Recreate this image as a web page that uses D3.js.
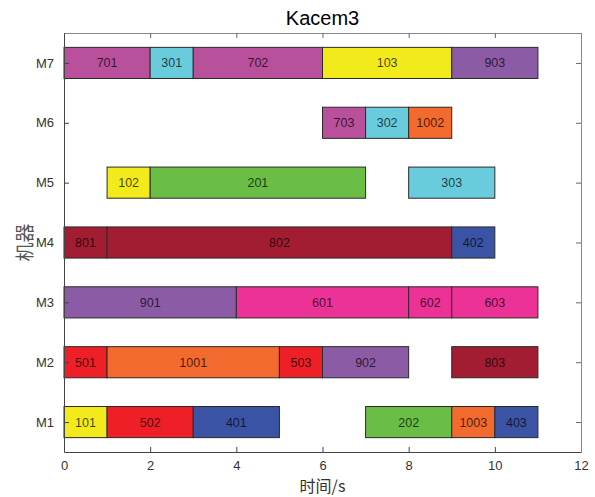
<!DOCTYPE html>
<html><head><meta charset="utf-8">
<script src="https://cdn.jsdelivr.net/npm/d3@7"></script>
<style>body{margin:0;background:#fff}svg{display:block}</style>
</head><body><svg id="c" width="595" height="497"></svg>
<script>
const machines = ["M1","M2","M3","M4","M5","M6","M7"];
const opLabels  = ["701","301","702","103","903", "703","302","1002", "102","201","303", "801","802","402", "901","601","602","603", "501","1001","503","902","803", "101","502","401","202","1003","403"];
const opMachine = ["M7","M7","M7","M7","M7", "M6","M6","M6", "M5","M5","M5", "M4","M4","M4", "M3","M3","M3","M3", "M2","M2","M2","M2","M2", "M1","M1","M1","M1","M1","M1"];
const opStart   = [0,2,3,6,9, 6,7,8, 1,2,8, 0,1,9, 0,4,8,9, 0,1,5,6,9, 0,1,3,7,9,10];
const opEnd     = [2,3,6,9,11, 7,8,9, 2,7,10, 1,9,10, 4,8,9,11, 1,5,6,8,11, 1,3,5,9,10,11];
const jobIds    = [1,2,3,4,5,6,7,8,9,10];
const jobColors = ["#F2EA1B","#6ABD45","#69CCDC","#3A53A4","#EE1F26","#EC3296","#B9509B","#A21D31","#8C5BA6","#F26A2E"];
const xTicks = [0,2,4,6,8,10,12];
const title = "Kacem3", xLabel = "时间/s", yLabel = "机器";

(function(){
const svg = d3.select("#c");
const L=64, R=581, T=33, B=452;
const x = d3.scaleLinear().domain([0,12]).range([L,R]);
const yi = d3.scaleLinear().domain([0.5,7.5]).range([B,T]);
const y = m => yi(machines.indexOf(m)+1);
const color = d3.scaleOrdinal().domain(jobIds).range(jobColors);
const jobOf = s => +s.slice(0, s.length-2);
const barH = (yi(0)-yi(1))*0.52;

const ops = opLabels.map((l,i)=>({label:l, m:opMachine[i], s:opStart[i], e:opEnd[i]}));

const g = svg.append("g");
g.selectAll("rect.bar").data(ops).enter().append("rect")
 .attr("x",d=>x(d.s)).attr("width",d=>x(d.e)-x(d.s))
 .attr("y",d=>y(d.m)-barH/2).attr("height",barH)
 .attr("fill",d=>color(jobOf(d.label)))
 .attr("stroke","#2a2a2a").attr("stroke-width",1);
g.selectAll("text.lab").data(ops).enter().append("text")
 .attr("x",d=>(x(d.s)+x(d.e))/2).attr("y",d=>y(d.m)+4.5)
 .attr("text-anchor","middle").attr("font-family","Liberation Sans, Arial, sans-serif")
 .attr("font-size",12.5).attr("fill","#000").attr("fill-opacity",0.72).text(d=>d.label);

const font = "Liberation Sans, Arial, sans-serif";
const axB = svg.append("g").attr("transform",`translate(0,${B})`)
 .call(d3.axisBottom(x).tickValues(xTicks).tickSizeInner(-5).tickSizeOuter(0).tickPadding(9));
const axT = svg.append("g").attr("transform",`translate(0,${T})`)
 .call(d3.axisTop(x).tickValues(xTicks).tickSizeInner(-5).tickSizeOuter(0).tickFormat(""));
const axL = svg.append("g").attr("transform",`translate(${L},0)`)
 .call(d3.axisLeft(yi).tickValues(d3.range(1,8)).tickFormat(d=>machines[d-1]).tickSizeInner(-5).tickSizeOuter(0).tickPadding(10));
const axR = svg.append("g").attr("transform",`translate(${R},0)`)
 .call(d3.axisRight(yi).tickValues(d3.range(1,8)).tickSizeInner(-5).tickSizeOuter(0).tickFormat(""));
[axB,axL].forEach(a=>{a.select(".domain").attr("stroke","#444");a.selectAll(".tick line").attr("stroke","#444");
 a.selectAll("text").attr("font-family",font).attr("font-size",13).attr("fill","#333");});
[axT,axR].forEach(a=>{a.select(".domain").attr("stroke","#888");a.selectAll(".tick line").attr("stroke","#666");});

svg.append("text").attr("x",(L+R)/2).attr("y",25).attr("text-anchor","middle")
 .attr("font-family",font).attr("font-size",20).attr("fill","#000").text(title);
svg.append("text").attr("x",(L+R)/2).attr("y",492).attr("text-anchor","middle")
 .attr("font-family","Noto Sans CJK SC, sans-serif").attr("font-size",16).attr("fill","#333").text(xLabel);
svg.append("text").attr("transform",`translate(32,${(T+B)/2}) rotate(-90)`).attr("text-anchor","middle")
 .attr("font-family","Noto Sans CJK SC, serif").attr("font-size",19).attr("fill","#555").text(yLabel);
})();
</script></body></html>
